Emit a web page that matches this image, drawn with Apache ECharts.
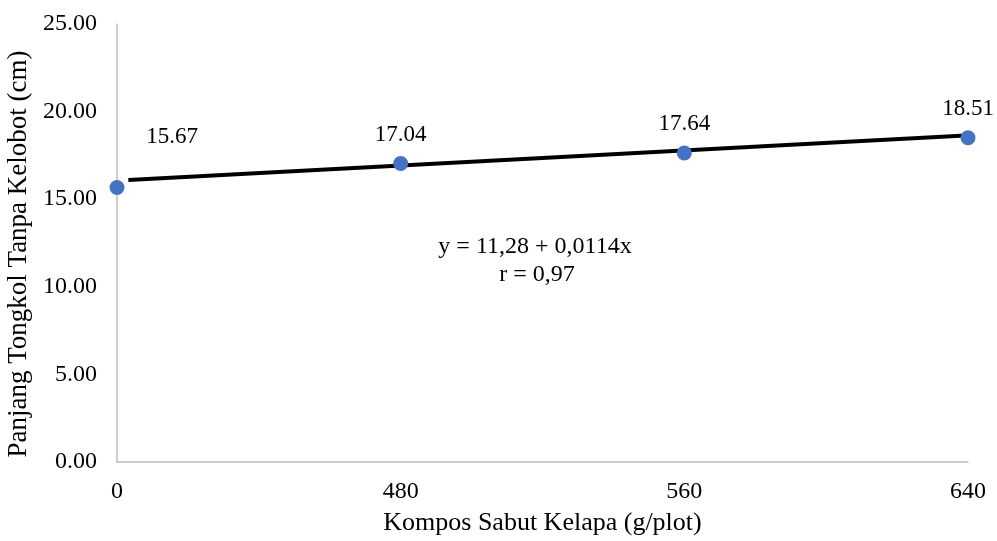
<!DOCTYPE html>
<html>
<head>
<meta charset="utf-8">
<script src="https://cdn.jsdelivr.net/npm/echarts@6/dist/echarts.min.js"></script>
<style>
  html, body { margin: 0; padding: 0; background: #fff; }
  #chart { width: 997px; height: 541px; }
</style>
</head>
<body>
<div id="chart"></div>
<script>
// Compost dose levels (g/plot) and cob length without husk (cm)
const categories = ['0', '480', '560', '640'];
const cobLength = [15.67, 17.04, 17.64, 18.51];
// Trend line end points: [category position, value]
const trendLine = [[0.04, 16.1], [3.025, 18.66]];
const yTicks = { min: 0, max: 25, interval: 5 };
const equationText = 'y = 11,28 + 0,0114x';
const rText = 'r = 0,97';

const FONT = '"Liberation Serif", "Times New Roman", serif';

const chart = echarts.init(document.getElementById('chart'));
chart.setOption({
  animation: false,
  grid: { left: 117, right: 29, top: 24, bottom: 79, outerBoundsMode: 'none' },
  xAxis: [
    {
      type: 'category',
      data: categories,
      boundaryGap: false,
      name: 'Kompos Sabut Kelapa (g/plot)',
      nameLocation: 'middle',
      nameGap: 48,
      nameTextStyle: { fontFamily: FONT, fontSize: 26, color: '#000' },
      axisLine: { lineStyle: { color: '#BFBFBF', width: 1.5 } },
      axisTick: { show: false },
      axisLabel: { fontFamily: FONT, fontSize: 24, color: '#000', margin: 18 },
      splitLine: { show: false }
    },
    {
      type: 'value',
      min: 0,
      max: 3,
      show: false
    }
  ],
  yAxis: {
    type: 'value',
    min: yTicks.min,
    max: yTicks.max,
    interval: yTicks.interval,
    name: 'Panjang Tongkol Tanpa Kelobot (cm)',
    nameLocation: 'middle',
    nameGap: 81,
    nameTextStyle: { fontFamily: FONT, fontSize: 27, color: '#000', padding: [0, 22, 0, 0] },
    axisLine: { show: true, lineStyle: { color: '#BFBFBF', width: 1.5 } },
    axisTick: { show: false },
    splitLine: { show: false },
    axisLabel: {
      fontFamily: FONT, fontSize: 24, color: '#000', margin: 20,
      formatter: v => v.toFixed(2)
    }
  },
  series: [
    {
      type: 'line',
      xAxisIndex: 1,
      data: trendLine,
      symbol: 'none',
      clip: false,
      lineStyle: { color: '#000', width: 4 },
      z: 3
    },
    {
      type: 'scatter',
      xAxisIndex: 0,
      data: cobLength.map((v, i) => {
        const item = { value: v };
        if (i === 0) item.label = { offset: [55, -22] };
        return item;
      }),
      symbolSize: 15,
      itemStyle: { color: '#4472C4', opacity: 1 },
      label: {
        show: true,
        position: 'top',
        distance: 10,
        fontFamily: FONT,
        fontSize: 23,
        color: '#000',
        opacity: 1,
        formatter: p => p.value.toFixed(2)
      },
      emphasis: { disabled: true },
      z: 4
    }
  ],
  graphic: [
    {
      type: 'text',
      x: 535,
      y: 235,
      style: { text: equationText, font: '24px ' + FONT, fill: '#000', textAlign: 'center' }
    },
    {
      type: 'text',
      x: 537,
      y: 263,
      style: { text: rText, font: '24px ' + FONT, fill: '#000', textAlign: 'center' }
    }
  ]
});
</script>
</body>
</html>
